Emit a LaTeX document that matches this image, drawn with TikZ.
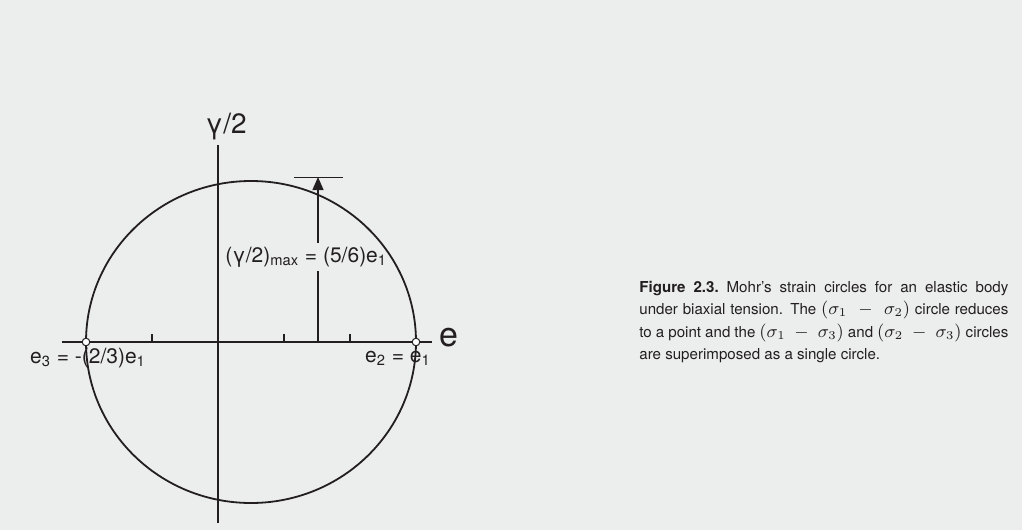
\documentclass[tikz,border=0pt]{standalone}
\usepackage{fontspec}
\setmainfont{TeX Gyre Heros}
\usetikzlibrary{arrows.meta,positioning}
\definecolor{paper}{RGB}{236,237,237}
\definecolor{ink}{RGB}{35,31,32}
\newcommand{\sgdiff}[2]{{\fontsize{8.6}{11}\selectfont$(\sigma_{#1}\;-\;\sigma_{#2})$}}
\tikzset{
  axis/.style={draw=ink,line width=1pt},
  tickmark/.style={draw=ink,line width=0.6pt},
  mohr/.style={draw=ink,line width=0.9pt},
  endpt/.style={circle,draw=ink,fill=white,line width=0.5pt,inner sep=0pt,minimum size=3.8pt},
  lbl/.style={font=\fontsize{10.5}{12}\selectfont,text=ink,inner sep=1pt},
  captext/.style={font=\fontsize{7.55}{11.15}\selectfont,text=ink,text width=184.5pt,
              align=justify,inner sep=0pt},
  arr/.style={-{Triangle[length=6.5pt,width=5.5pt]},draw=ink,fill=ink,line width=0.7pt},
}

\begin{document}
\begin{tikzpicture}[x=0.5pt,y=-0.5pt]
    \fill[paper] (0,0) rectangle (1022,530);
    \useasboundingbox (0,0) rectangle (1022,530);
    % axes ends and circle points
    \coordinate (o) at (218,342);
    \coordinate (xl) at (62,342);   \coordinate (xr) at (432,342);
    \coordinate (yt) at (218,145);  \coordinate (yb) at (218,523);
    \coordinate (c) at (251,342);
    \coordinate (gbase) at (318,342); \coordinate (gtop) at (318,177);
    \coordinate (cl) at (294,177);  \coordinate (cr) at (343,177);
    % maximum shear arrow, label drawn over it
    \draw[arr] (gbase) -- (gtop);
    \draw[ink,line width=0.5pt] (cl) -- (cr);
    \node[lbl,anchor=west,fill=paper,inner sep=2pt] (gmax) at (221,257)
      {(γ/2)\textsubscript{max} = (5/6)e\textsubscript{1}};
    \draw[axis] (xl) -- (xr);
    \draw[axis] (yt) -- (yb);
    \draw[mohr] (c) ellipse [x radius=82.5pt,y radius=80.5pt];
    \foreach \t in {152,284,350}
      \draw[tickmark] (\t,342) -- (\t,334);
    \node[endpt] (e3) at (86,342) {};
    \node[endpt] (e2) at (416,342) {};
    % labels
    \node[font=\fontsize{14}{16}\selectfont,text=ink] (ylab) at (226,127) {γ/2};
    \node[font=\fontsize{17}{19}\selectfont,text=ink] (xlab) at (449,338) {e};
    \node[lbl] (e3lab) at (88,358) {e\textsubscript{3} = -(2/3)e\textsubscript{1}};
    \node[lbl] (e2lab) at (398,358) {e\textsubscript{2} = e\textsubscript{1}};
    % caption
    \node[captext,anchor=north west] (caption) at (639,281)
      {\textbf{Figure 2.3.}\ Mohr’s strain circles for an elastic body\linebreak
       under biaxial tension. The \sgdiff12 circle reduces\linebreak
       to a point and the \sgdiff13 and \sgdiff23 circles\linebreak
       are superimposed as a single circle.};
  \end{tikzpicture}
\end{document}
